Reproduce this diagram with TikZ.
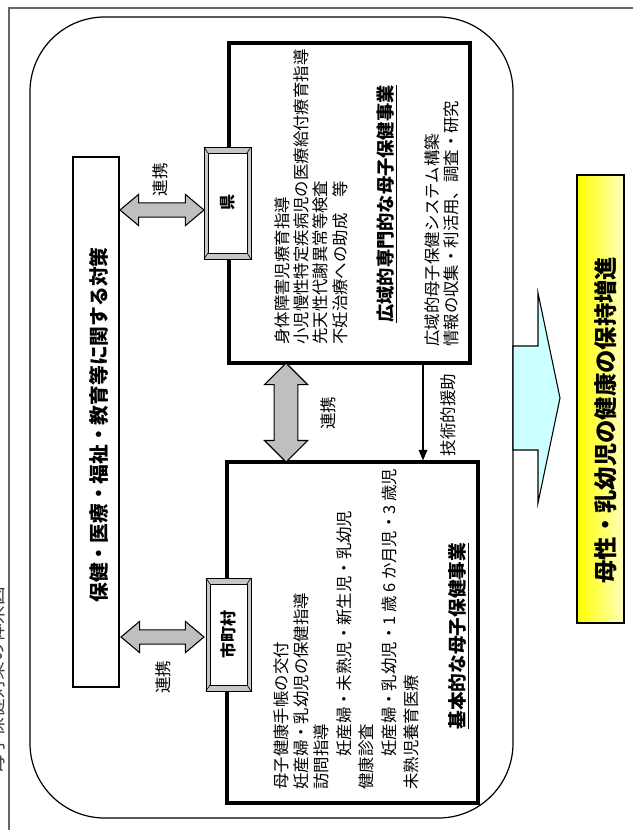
\documentclass[tikz,border=0pt]{standalone}
\usepackage{fontspec}
\setmainfont{Noto Sans CJK JP}
\usetikzlibrary{shapes.arrows,arrows.meta,calc,fit}
\definecolor{lcyan}{RGB}{204,255,255}
\tikzset{
 fs/.style={font=\fontsize{#1}{#1}\selectfont},
 fsb/.style={font=\fontsize{#1}{#1}\selectfont\bfseries},
 lst/.style={rotate=90, anchor=west, inner sep=0pt, font=\fontsize{12.3}{13}\selectfont},
 vtxt/.style={rotate=90, inner sep=0pt},
 bigbox/.style={draw=black, line width=2.3pt, inner sep=0pt, fill=white},
 thinbox/.style={draw=black, line width=0.8pt, inner sep=0pt},
 dblarrow/.style={double arrow, draw=black, fill=gray!50, line width=0.8pt, inner xsep=0pt, anchor=center, double arrow tip angle=80},
}
\newcommand\fatarrow[3][]{\path let \p1=(#2), \p2=(#3), \n1={veclen(\x2-\x1,\y2-\y1)}, \n2={atan2(\y2-\y1,\x2-\x1)} in node[dblarrow, minimum height=\n1, rotate=\n2, #1] at ($(#2)!0.5!(#3)$) {};}
\newcommand\bevelbox[6]{%
 \node[fit={(#2,#3) (#4,#5)}, inner sep=0pt, draw, fill=gray!45, line width=0.6pt] (#1) {};
 \draw[fill=white, line width=0.6pt] (#2+4,#3+6) rectangle (#4-4,#5-6);
 \draw[line width=0.5pt] (#2,#3) -- (#2+4,#3+6) (#4,#3) -- (#4-4,#3+6) (#2,#5) -- (#2+4,#5-6) (#4,#5) -- (#4-4,#5-6);
 \node[vtxt, fsb=12] (#1-t) at (#1) {#6};}
\begin{document}
\begin{tikzpicture}[x=0.75pt,y=-0.75pt]
\useasboundingbox (0,0) rectangle (633,830);
\clip (0,0) rectangle (633,830);
% page frame and cut title
\draw[draw=black!60, line width=1.1pt] (9,8) rectangle (660,860);
\node[vtxt, fs=14, text=black!75] (title) at (-4,680) {母子保健対策の体系図};
% rounded outline
\draw[line width=0.9pt, rounded corners=56pt] (30,17) rectangle (513,818);
% left box
\node[thinbox, fit={(73,157) (119,687)}] (measures) {};
\node[vtxt, fsb=14.8] (measurestxt) at (99,425) {保健・医療・福祉・教育等に関する対策};
% big boxes
\node[bigbox, fit={(229,43) (470,363)}] (pref) {};
\node[bigbox, fit={(227,462) (478,803)}] (muni) {};
% small bevel boxes
\bevelbox{ken}{204}{147}{251}{259}{県}
\bevelbox{city}{206}{578}{251}{691}{市町村}
% fat double arrows
\coordinate (h1a) at (120,210); \coordinate (h1b) at (204,210);
\coordinate (h2a) at (121,637); \coordinate (h2b) at (204,637);
\coordinate (va) at (286,363); \coordinate (vb) at (286,462);
\fatarrow[name=arrA, inner ysep=4.9pt, double arrow head extend=6.4pt]{h1a}{h1b}
\fatarrow[name=arrB, inner ysep=4.9pt, double arrow head extend=6.4pt]{h2a}{h2b}
\fatarrow[name=arrC, inner ysep=8.5pt, double arrow head extend=7.25pt, double arrow tip angle=90]{va}{vb}
\node[vtxt, fs=12.4] (l1) at (160,180) {連携};
\node[vtxt, fs=12.4] (l2) at (163,677) {連携};
\node[vtxt, fs=12.4] (l3) at (328,413) {連携};
% technical support
\coordinate (tx) at (423,0);
\draw[line width=1.1pt, -{Triangle[length=8pt,width=6.5pt]}] (pref.south -| tx) -- (muni.north -| tx);
\node[vtxt, fs=12.4] (l4) at (448,415) {技術的援助};
% prefecture texts
\node[lst] (p1) at (282,345) {身体障害児療育指導};
\node[lst] (p2) at (301,345) {小児慢性特定疾病児の医療給付療育指導};
\node[lst] (p3) at (320,345) {先天性代謝異常等検査};
\node[lst] (p4) at (340,345) {不妊治療への助成　等};
\node[vtxt, fsb=13.7] (ph) at (387,204) {\underline{広域的専門的な母子保健事業}};
\node[lst] (p5) at (432,347) {広域的母子保健システム構築};
\node[lst] (p6) at (451,347) {情報の収集・利活用、調査・研究};
% municipality texts
\node[lst] (m1) at (281,790) {母子健康手帳の交付};
\node[lst] (m2) at (301,790) {妊産婦・乳幼児の保健指導};
\node[lst] (m3) at (321,790) {訪問指導};
\node[lst] (m4) at (344,757) {妊産婦・未熟児・新生児・乳幼児};
\node[lst] (m5) at (366,790) {健康診査};
\node[lst] (m6) at (389,757) {妊産婦・乳幼児・1 歳 6 か月児・3 歳児};
\node[lst] (m7) at (411,790) {未熟児養育医療};
\node[vtxt, fsb=14] (mh) at (459,636) {\underline{基本的な母子保健事業}};
% big arrow
\draw[line width=0.8pt, fill=lcyan] (513,346) -- (538,346) -- (538,293) -- (560,398) -- (538,503) -- (538,450) -- (513,450) -- cycle;
% goal
\node[thinbox, fit={(577,175) (624,623)}, left color=yellow, right color=yellow!25] (goal) {};
\node[vtxt, fsb=17.5] (goaltxt) at (606,420) {母性・乳幼児の健康の保持増進};
\end{tikzpicture}
\end{document}
